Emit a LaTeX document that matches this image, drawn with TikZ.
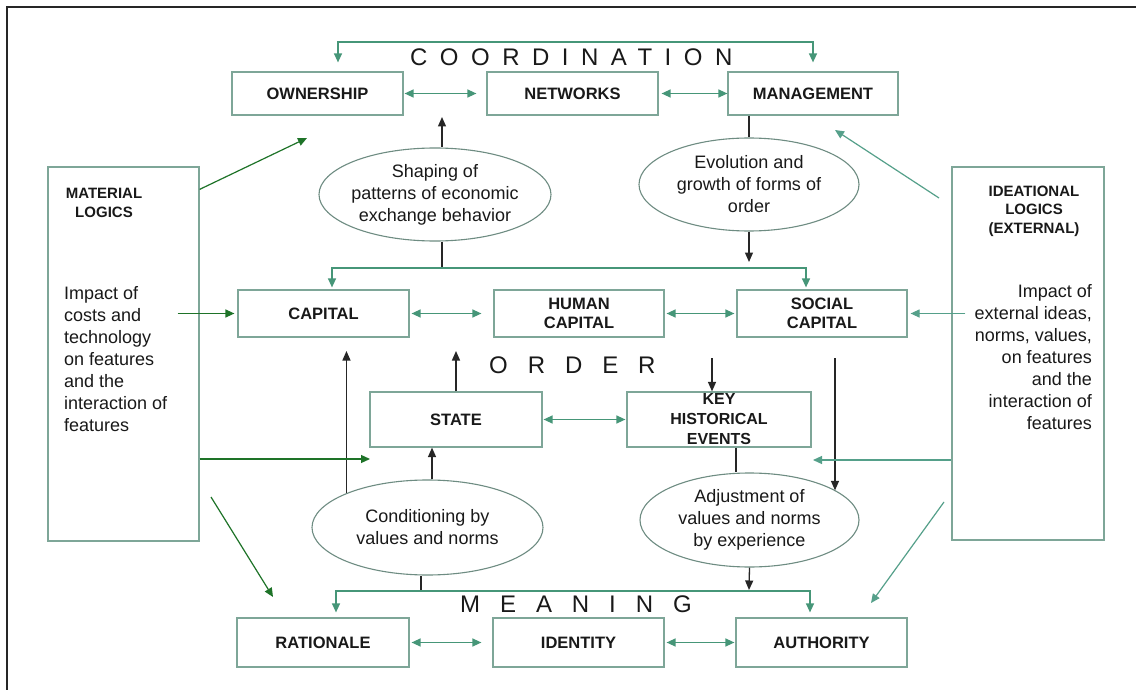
\documentclass[tikz,border=0pt]{standalone}
\usepackage{fontspec}
\setmainfont{Liberation Sans}
\usetikzlibrary{arrows.meta,shapes.geometric,calc}
\definecolor{boxc}{RGB}{126,166,152}
\definecolor{tealar}{RGB}{70,150,120}
\definecolor{matgreen}{RGB}{30,115,40}
\definecolor{idgreen}{RGB}{85,160,138}
\definecolor{elc}{RGB}{110,140,130}
\definecolor{txt}{RGB}{25,25,25}
\begin{document}
\begin{tikzpicture}[x=1pt,y=-1pt,
  bx/.style={draw=boxc, line width=1.2pt, inner sep=0pt, align=center, text=txt,
    font=\fontsize{16.5}{18.5}\selectfont\bfseries},
  sidebox/.style={draw=boxc, line width=1.2pt, inner sep=0pt},
  el/.style={ellipse, draw=elc, line width=1.1pt, inner sep=-20pt, align=center, text=txt,
    font=\fontsize{18}{22}\selectfont},
  ga/.style={draw=tealar, line width=1.3pt, {Triangle[length=9pt,width=8pt]}-{Triangle[length=9pt,width=8pt]}},
  ma/.style={draw=matgreen, line width=1.2pt, -{Triangle[length=9pt,width=8pt]}},
  ia/.style={draw=idgreen, line width=1.2pt, -{Triangle[length=9pt,width=8pt]}},
  ba/.style={draw=black!85, line width=1.3pt, -{Triangle[length=9.5pt,width=8pt]}},
  bl/.style={draw=black!85, line width=1.3pt},
  head/.style={font=\fontsize{24}{24}\selectfont, text=txt, inner sep=0pt, anchor=base west},
  sidetitle/.style={font=\fontsize{15}{18.5}\selectfont\bfseries, align=center, inner sep=0pt, text=txt},
  sidetext/.style={font=\fontsize{18}{22}\selectfont, inner sep=0pt, text=txt}
]
\useasboundingbox (0,0) rectangle (1136,690);
\fill[white] (0,0) rectangle (1136,690);
% frame (top and left edges)
\draw[line width=2pt, black!85] (1136,7.5) -- (7,7.5) -- (7,690);

% boxes
\node[bx, minimum width=171pt, minimum height=43pt] (own) at (317.5,93.5) {OWNERSHIP};
\node[bx, minimum width=171pt, minimum height=43pt] (net) at (572.5,93.5) {NETWORKS};
\node[bx, minimum width=170pt, minimum height=43pt] (man) at (813,93.5) {MANAGEMENT};
\node[bx, minimum width=171pt, minimum height=47pt] (cap) at (323.5,313.5) {CAPITAL};
\node[bx, minimum width=170pt, minimum height=47pt] (hum) at (579,313.5) {HUMAN\\CAPITAL};
\node[bx, minimum width=170pt, minimum height=47pt] (soc) at (822,313.5) {SOCIAL\\CAPITAL};
\node[bx, minimum width=172pt, minimum height=55pt] (state) at (456,419.5) {STATE};
\node[bx, minimum width=184pt, minimum height=55pt, inner ysep=-4pt,
      font=\fontsize{16}{20}\selectfont\bfseries] (key) at (719,419.5) {KEY\\HISTORICAL\\EVENTS};
\node[bx, minimum width=172pt, minimum height=49pt] (rat) at (323,642.5) {RATIONALE};
\node[bx, minimum width=171pt, minimum height=49pt] (ide) at (578.5,642.5) {IDENTITY};
\node[bx, minimum width=171pt, minimum height=49pt] (aut) at (821.5,642.5) {AUTHORITY};
\node[sidebox, minimum width=151pt, minimum height=374pt] (mat) at (123.5,354) {};
\node[sidebox, minimum width=152pt, minimum height=373pt] (idl) at (1028,353.5) {};

% side texts
\node[sidetitle] (matt) at (104,203) {MATERIAL\\LOGICS};
\node[sidetext, align=left, anchor=west] (matb) at (64,359) {Impact of\\costs and\\technology\\on features\\and the\\interaction of\\features};
\node[sidetitle] (idlt) at (1034,211) {IDEATIONAL\\LOGICS\\(EXTERNAL)};
\node[sidetext, align=right, anchor=east] (idlb) at (1092,357) {Impact of\\external ideas,\\norms, values,\\on features\\and the\\interaction of\\features};

% ellipses
\node[el, minimum width=232pt, minimum height=93pt] (e1) at (435,194.5) {Shaping of\\patterns of economic\\exchange behavior};
\node[el, minimum width=220pt, minimum height=93pt] (e2) at (749,184.5) {Evolution and\\growth of forms of\\order};
\node[el, minimum width=231pt, minimum height=95pt] (e3) at (427.5,527.5) {Conditioning by\\values and norms};
\node[el, minimum width=219pt, minimum height=94pt] (e4) at (749.5,520) {Adjustment of\\values and norms\\by experience};

% headings
\node[head] (hco) at (410,66) {\addfontfeature{LetterSpace=52}COORDINATION};
\node[head] (hor) at (489,373) {\addfontfeature{LetterSpace=83}ORDER};
\node[head] (hme) at (460,612) {\addfontfeature{LetterSpace=83}MEANING};

% coordination bracket
\coordinate (ctop) at (575,42);
\draw[ga, shorten <=9pt, shorten >=9pt] ([xshift=20.5pt]own.north) |- (ctop) -| (man.north);

% horizontal double arrows
\draw[ga, shorten <=1pt, shorten >=10pt] (own.east) -- (net.west);
\draw[ga, shorten <=3pt, shorten >=0pt] (net.east) -- (man.west);
\draw[ga, shorten <=2pt, shorten >=12pt] (cap.east) -- (hum.west);
\draw[ga, shorten <=2pt, shorten >=2pt] (hum.east) -- (soc.west);
\draw[ga, shorten <=1pt, shorten >=1pt] (state.east) -- (key.west);
\draw[ga, shorten <=2pt, shorten >=11pt] (rat.east) -- (ide.west);
\draw[ga, shorten <=2pt, shorten >=1pt] (ide.east) -- (aut.west);

% upper black connectors
\coordinate (a1) at (442,117);
\draw[ba] (a1 |- e1.north) -- (a1);
\coordinate (b1) at (442,268);
\draw[bl] (b1 |- e1.south) -- (b1);
\draw[ga, shorten <=2pt, shorten >=2pt] ([xshift=8.5pt]cap.north) |- (b1) -| ([xshift=-16pt]soc.north);
\draw[bl] (e2.north |- man.south) -- (e2.north);
\coordinate (b2) at (749,262);
\draw[ba] (e2.south) -- (b2);

% middle black connectors
\coordinate (a2) at (347,351);
\draw[ba] (e3.157) -- (e3.157 |- a2);
\draw[ba] (state.north) -- (state.north |- a2);
\draw[ba] ([xshift=4.5pt]e3.north) -- ([xshift=4.5pt]e3.north |- state.south);
\coordinate (a3) at (712,358);
\draw[ba] (a3) -- (a3 |- key.north);
\coordinate (a4) at (835,358);
\draw[ba] (a4) -- (a4 |- e4.19);
\draw[bl] ([xshift=17pt]key.south) -- ([xshift=17pt]key.south |- e4.north);

% meaning bracket
\coordinate (b3) at (421,591);
\draw[bl] (b3 |- e3.south) -- (b3);
\draw[ga, shorten <=5pt, shorten >=5pt] ([xshift=13pt]rat.north) |- (b3) -| ([xshift=-11.5pt]aut.north);
\coordinate (b4) at (749,590);
\draw[ba] (e4.south) -- (b4);

% material logics arrows
\coordinate (m1) at (307,138);
\draw[ma] ([yshift=-23pt]mat.north east) -- (m1);
\draw[ma, shorten >=3pt] ($(mat.east |- cap.west)+(-22,0)$) -- (cap.west);
\coordinate (m3) at (370,459);
\draw[ma] (mat.east |- m3) -- (m3);
\coordinate (m4s) at (211,497);
\coordinate (m4) at (273,597);
\draw[ma] (m4s) -- (m4);

% ideational logics arrows
\coordinate (i1s) at (939,198);
\coordinate (i1) at (835,130);
\draw[ia] (i1s) -- (i1);
\draw[ia, shorten >=3pt] ($(idl.west |- soc.east)+(14,0)$) -- (soc.east);
\coordinate (i3) at (813,460);
\draw[ia] (idl.west |- i3) -- (i3);
\coordinate (i4s) at (944,502);
\coordinate (i4) at (871,603);
\draw[ia] (i4s) -- (i4);
\end{tikzpicture}
\end{document}
